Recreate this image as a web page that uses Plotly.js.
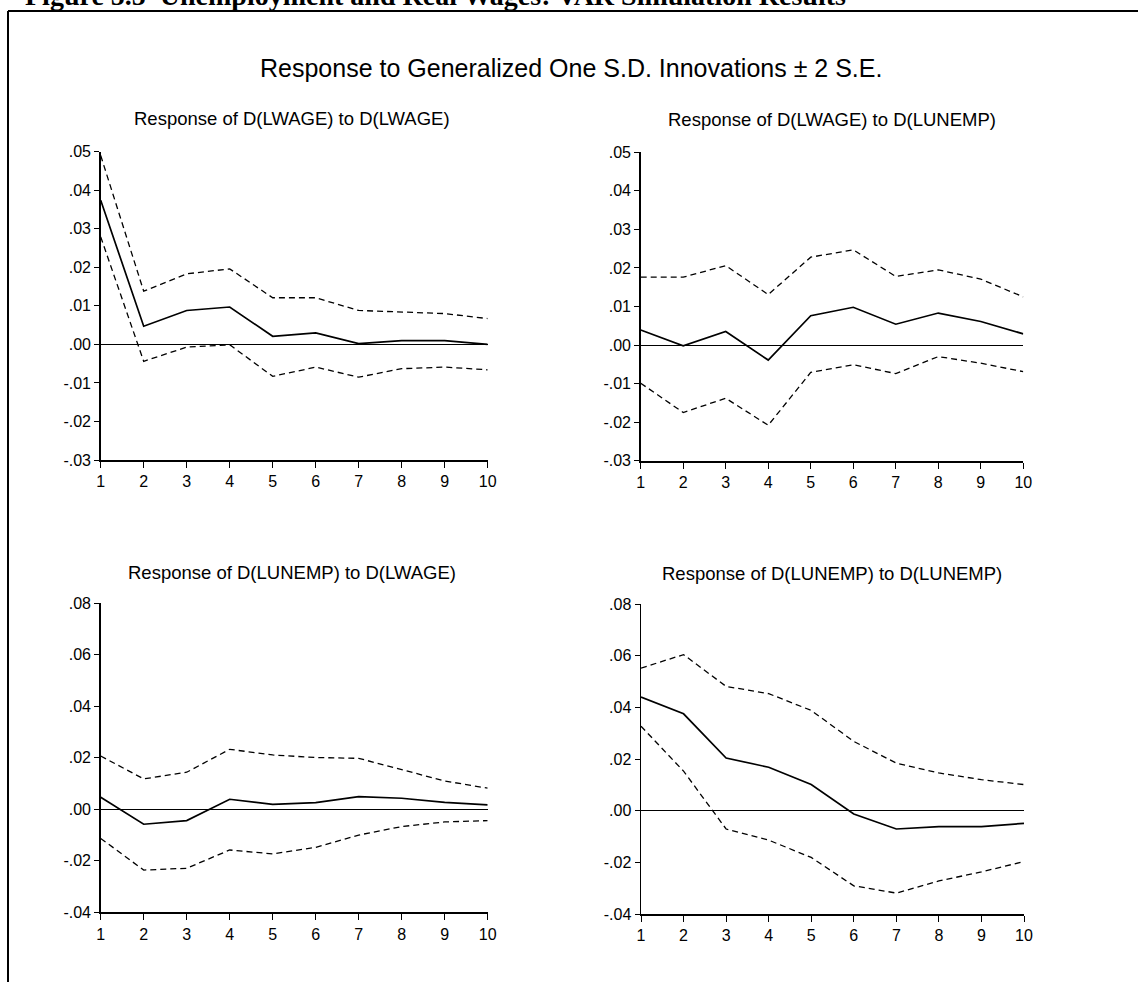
<!DOCTYPE html>
<html>
<head>
<meta charset="utf-8">
<script src="https://cdn.plot.ly/plotly-3.0.1.min.js"></script>
<style>html,body{margin:0;padding:0;background:#fff;}#chart{width:1138px;height:982px;}</style>
</head>
<body>
<div id="chart"></div>
<script>
// Horizon (periods)
const horizon = [1, 2, 3, 4, 5, 6, 7, 8, 9, 10];

// Response of D(LWAGE) to D(LWAGE)
const wageWageResp  = [0.0374, 0.0047, 0.0088, 0.0097, 0.0021, 0.0030, 0.0002, 0.0010, 0.0010, 0.0000];
const wageWageUpper = [0.0490, 0.0138, 0.0183, 0.0196, 0.0121, 0.0121, 0.0088, 0.0084, 0.0080, 0.0067];
const wageWageLower = [0.0279, -0.0044, -0.0007, -0.0001, -0.0083, -0.0059, -0.0085, -0.0063, -0.0059, -0.0066];

// Response of D(LWAGE) to D(LUNEMP)
const wageUnempResp  = [0.0039, -0.0002, 0.0035, -0.0039, 0.0076, 0.0098, 0.0054, 0.0083, 0.0061, 0.0029];
const wageUnempUpper = [0.0176, 0.0176, 0.0206, 0.0131, 0.0228, 0.0247, 0.0178, 0.0195, 0.0171, 0.0125];
const wageUnempLower = [-0.0099, -0.0175, -0.0138, -0.0208, -0.0071, -0.0051, -0.0074, -0.0030, -0.0047, -0.0069];

// Response of D(LUNEMP) to D(LWAGE)
const unempWageResp  = [0.0047, -0.0058, -0.0044, 0.0039, 0.0019, 0.0026, 0.0049, 0.0043, 0.0027, 0.0017];
const unempWageUpper = [0.0207, 0.0118, 0.0144, 0.0233, 0.0211, 0.0201, 0.0198, 0.0153, 0.0110, 0.0082];
const unempWageLower = [-0.0113, -0.0236, -0.0229, -0.0158, -0.0173, -0.0148, -0.0100, -0.0067, -0.0049, -0.0044];

// Response of D(LUNEMP) to D(LUNEMP)
const unempUnempResp  = [0.0440, 0.0375, 0.0204, 0.0168, 0.0101, -0.0013, -0.0071, -0.0062, -0.0062, -0.0049];
const unempUnempUpper = [0.0552, 0.0604, 0.0481, 0.0453, 0.0388, 0.0268, 0.0184, 0.0146, 0.0120, 0.0101];
const unempUnempLower = [0.0327, 0.0153, -0.0071, -0.0114, -0.0181, -0.0291, -0.0319, -0.0272, -0.0237, -0.0197];

// Tick labels
const topTickVals = [-0.03, -0.02, -0.01, 0.00, 0.01, 0.02, 0.03, 0.04, 0.05];
const topTickText = ["-.03", "-.02", "-.01", ".00", ".01", ".02", ".03", ".04", ".05"];
const botTickVals = [-0.04, -0.02, 0.00, 0.02, 0.04, 0.06, 0.08];
const botTickText = ["-.04", "-.02", ".00", ".02", ".04", ".06", ".08"];
const xTickVals = horizon;
const xTickText = ["1", "2", "3", "4", "5", "6", "7", "8", "9", "10"];

// Texts
const captionText = "Figure 5.5  Unemployment and Real Wages: VAR Simulation Results";
const mainTitle = "Response to Generalized One S.D. Innovations \u00b1 2 S.E.";
const panelTitles = [
  "Response of D(LWAGE) to D(LWAGE)",
  "Response of D(LWAGE) to D(LUNEMP)",
  "Response of D(LUNEMP) to D(LWAGE)",
  "Response of D(LUNEMP) to D(LUNEMP)"
];

const W = 1138, H = 982;
const px = v => v / W;
const py = v => 1 - v / H;

const panels = [
  {ax: '', resp: wageWageResp, up: wageWageUpper, lo: wageWageLower},
  {ax: '2', resp: wageUnempResp, up: wageUnempUpper, lo: wageUnempLower},
  {ax: '3', resp: unempWageResp, up: unempWageUpper, lo: unempWageLower},
  {ax: '4', resp: unempUnempResp, up: unempUnempUpper, lo: unempUnempLower}
];

const traces = [];
panels.forEach(p => {
  const xa = 'x' + p.ax, ya = 'y' + p.ax;
  traces.push({x: horizon, y: p.up, xaxis: xa, yaxis: ya, type: 'scatter', mode: 'lines',
    line: {color: '#000', width: 1.3, dash: '6px,4px'}, hoverinfo: 'skip'});
  traces.push({x: horizon, y: p.lo, xaxis: xa, yaxis: ya, type: 'scatter', mode: 'lines',
    line: {color: '#000', width: 1.3, dash: '6px,4px'}, hoverinfo: 'skip'});
  traces.push({x: horizon, y: p.resp, xaxis: xa, yaxis: ya, type: 'scatter', mode: 'lines',
    line: {color: '#000', width: 1.7}, hoverinfo: 'skip'});
});

const tickFont = {family: 'Liberation Sans, Arial, sans-serif', size: 16, color: '#000'};

function xAxis(d0, d1, anchor) {
  return {domain: [d0, d1], range: [1, 10], anchor: anchor, tickvals: xTickVals, ticktext: xTickText,
    ticks: 'outside', ticklen: 6, tickwidth: 1, tickcolor: '#000', showline: true, linecolor: '#000',
    linewidth: 2, showgrid: false, zeroline: false, tickfont: tickFont, fixedrange: true};
}
function yAxis(d0, d1, anchor, range, vals, text) {
  return {domain: [d0, d1], range: range, anchor: anchor, tickvals: vals, ticktext: text,
    ticks: 'outside', ticklen: 5, tickwidth: 1, tickcolor: '#000', showline: true, linecolor: '#000',
    linewidth: 1.5, showgrid: false, zeroline: true, zerolinecolor: '#000', zerolinewidth: 1,
    tickfont: tickFont, fixedrange: true};
}

const titleFont = {family: 'Liberation Sans, Arial, sans-serif', size: 18.5, color: '#000'};

const layout = {
  width: W, height: H,
  margin: {l: 0, r: 0, t: 0, b: 0},
  paper_bgcolor: '#fff', plot_bgcolor: '#fff',
  showlegend: false,
  xaxis:  xAxis(px(100.7), px(487.7), 'y'),
  yaxis:  yAxis(py(460), py(151.7), 'x', [-0.03, 0.05], topTickVals, topTickText),
  xaxis2: xAxis(px(640.7), px(1023.3), 'y2'),
  yaxis2: yAxis(py(460.7), py(152.3), 'x2', [-0.03, 0.05], topTickVals, topTickText),
  xaxis3: xAxis(px(100.7), px(487.7), 'y3'),
  yaxis3: yAxis(py(912.3), py(603.3), 'x3', [-0.04, 0.08], botTickVals, botTickText),
  xaxis4: xAxis(px(641), px(1024), 'y4'),
  yaxis4: yAxis(py(914), py(604), 'x4', [-0.04, 0.08], botTickVals, botTickText),
  annotations: [
    {text: captionText, xref: 'paper', yref: 'paper', x: px(23), y: py(13), xanchor: 'left', yanchor: 'bottom',
      showarrow: false, font: {family: 'Liberation Serif, Times New Roman, serif', size: 28, color: '#000', weight: 'bold'}},
    {text: mainTitle, xref: 'paper', yref: 'paper', x: px(571), y: py(68), xanchor: 'center', yanchor: 'middle',
      showarrow: false, font: {family: 'Liberation Sans, Arial, sans-serif', size: 25, color: '#000'}},
    {text: panelTitles[0], xref: 'paper', yref: 'paper', x: px(292), y: py(119), xanchor: 'center', yanchor: 'middle', showarrow: false, font: titleFont},
    {text: panelTitles[1], xref: 'paper', yref: 'paper', x: px(832), y: py(120), xanchor: 'center', yanchor: 'middle', showarrow: false, font: titleFont},
    {text: panelTitles[2], xref: 'paper', yref: 'paper', x: px(292), y: py(572), xanchor: 'center', yanchor: 'middle', showarrow: false, font: titleFont},
    {text: panelTitles[3], xref: 'paper', yref: 'paper', x: px(832), y: py(573), xanchor: 'center', yanchor: 'middle', showarrow: false, font: titleFont}
  ],
  shapes: [
    {type: 'line', xref: 'paper', yref: 'paper', x0: px(8), x1: 1, y0: py(11), y1: py(11), line: {color: '#000', width: 2}},
    {type: 'line', xref: 'paper', yref: 'paper', x0: px(8), x1: px(8), y0: py(11), y1: 0, line: {color: '#000', width: 2}}
  ]
};

Plotly.newPlot('chart', traces, layout, {staticPlot: true, displayModeBar: false});
</script>
</body>
</html>
